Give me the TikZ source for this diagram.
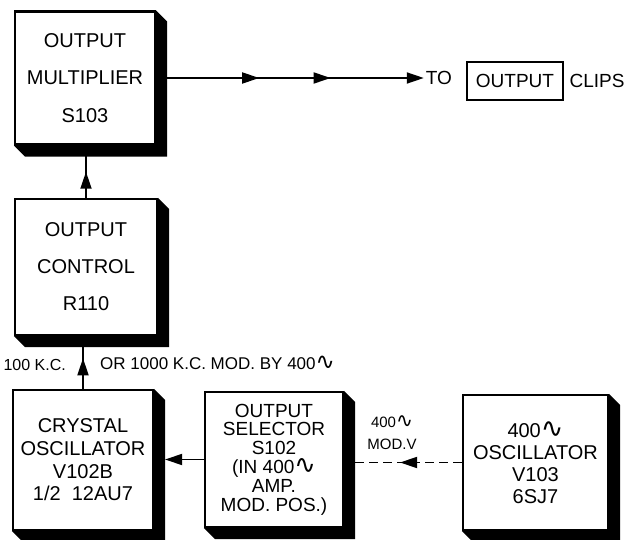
\documentclass[tikz,border=0pt]{standalone}
\usepackage{fontspec}
\setmainfont{Liberation Sans}
\newfontfamily\symfont{DejaVu Sans}
\newcommand{\cyc}{{\symfont\scalebox{1.35}{∿}}}
\usepackage{tikz}
\usetikzlibrary{arrows.meta,calc,decorations.markings}

\begin{document}
\begin{tikzpicture}[
  x=1pt, y=-1pt,
  >={Triangle[length=17pt,width=11pt]},
  blockbox/.style={draw, line width=2.2pt, fill=white, align=center, inner sep=0pt},
  txt/.style={inner sep=2pt, font=\fontsize{19}{22}\selectfont},
  lbl/.style={inner sep=0pt, font=\fontsize{16}{20}\selectfont},
  link/.style={line width=1.8pt},
  midarrow/.style={postaction={decorate, decoration={markings, mark=at position #1 with {\arrow{>}}}}}
]
\useasboundingbox (0,0) rectangle (625,540);

\node[blockbox, minimum width=140pt, minimum height=133pt, font=\fontsize{20}{37.5}\selectfont] (mult) at (85,78) {OUTPUT\\MULTIPLIER\\S103};
\node[blockbox, minimum width=142pt, minimum height=136pt, font=\fontsize{20}{37}\selectfont] (ctrl) at (86,267) {OUTPUT\\CONTROL\\R110};
\node[blockbox, minimum width=140pt, minimum height=140pt, font=\fontsize{20}{22.7}\selectfont] (xtal) at (83,460) {CRYSTAL\\OSCILLATOR\\V102B\\1/2\ \ 12AU7};
\node[blockbox, minimum width=138pt, minimum height=135pt, font=\fontsize{19}{18.8}\selectfont] (sel) at (274,459.5) {OUTPUT\\SELECTOR\\S102\\(IN 400\cyc\\AMP.\\MOD. POS.)};
\node[blockbox, minimum width=145pt, minimum height=135pt, font=\fontsize{20}{22}\selectfont] (osc) at (535.5,462.5) {400\cyc\\OSCILLATOR\\V103\\6SJ7};

\foreach \n in {mult,ctrl,xtal,sel,osc}
  \fill (\n.north east) -- ++(11,11) -- ($(\n.south east)+(11,11)$) -- ($(\n.south west)+(11,11)$) -- (\n.south west) -- (\n.south east) -- cycle;

\node[txt] (to) at (439,78) {TO};
\node[txt, draw, line width=1.4pt, minimum width=96pt, minimum height=38pt] (clip) at (515,81) {OUTPUT};
\node[txt] (clips) at (597,81) {CLIPS};

\node[lbl, anchor=east] (kc) at (66,365) {100 K.C.};
\node[lbl, anchor=west, font=\fontsize{17}{20}\selectfont] (mod) at (100,363) {OR 1000 K.C. MOD. BY 400\cyc};
\node[lbl, align=center, font=\fontsize{15}{22}\selectfont] (modv) at (392,433) {400\cyc\\MOD.V};

\draw[link, ->, midarrow=0.385, midarrow=0.652] (mult.east) -- (mult.east -| to.west);
\draw[link, midarrow=0.5] (ctrl.north) -- (ctrl.north |- mult.south);
\draw[link, midarrow=0.58] (xtal.north) -- (xtal.north |- ctrl.south);
\draw[link, ->, shorten >=11pt] (sel.west) -- (sel.west -| xtal.east);
\draw[link, dash pattern=on 9pt off 5pt, midarrow=0.525] (osc.west) -- (osc.west -| sel.east);
\end{tikzpicture}
\end{document}
